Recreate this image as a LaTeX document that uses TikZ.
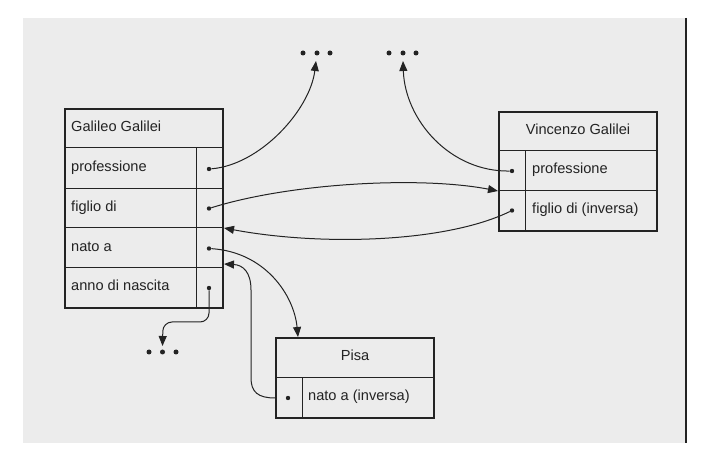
\documentclass[tikz,border=0pt]{standalone}
\usepackage{fontspec}
\setmainfont{Liberation Sans}
\usetikzlibrary{arrows.meta}
\definecolor{bg}{RGB}{236,236,236}
\definecolor{ink}{RGB}{35,35,35}
\begin{document}
\begin{tikzpicture}[x=1pt,y=-1pt,
  box/.style={draw=ink,line width=1.8pt,inner sep=0pt,rectangle},
  sep/.style={draw=ink,line width=1pt},
  lbl/.style={font=\fontsize{14.6}{17}\selectfont,text=ink,inner sep=0pt},
  pt/.style={circle,fill=ink,inner sep=0pt,minimum size=4.4pt},
  edot/.style={circle,fill=ink,inner sep=0pt,minimum size=5pt},
  link/.style={draw=ink,line width=1pt,-{Triangle[length=10pt,width=8pt]}},
]
\useasboundingbox (0,0) rectangle (713,465);
\fill[white] (0,0) rectangle (713,465);
\fill[bg] (23,18) rectangle (686,443);
\draw[ink,line width=1.5pt] (686,18) -- (686,443);

% ---- Galileo Galilei box
\node[box,minimum width=158pt,minimum height=199pt] (gg) at (144,208.5) {};
\draw[sep] (65,148) -- (223,148);
\draw[sep] (65,189) -- (223,189);
\draw[sep] (65,228) -- (223,228);
\draw[sep] (65,268) -- (223,268);
\draw[sep] (196,148) -- (196,308);
\node[lbl,anchor=mid west] (ggt) at (71,129) {Galileo Galilei};
\node[lbl,anchor=mid west] (ggp) at (71,169) {professione};
\node[lbl,anchor=mid west] (ggf) at (71,208.5) {figlio di};
\node[lbl,anchor=mid west] (ggn) at (71,248.5) {nato a};
\node[lbl,anchor=mid west] (gga) at (71,288) {anno di nascita};
\node[pt] (gpd) at (209,169) {};
\node[pt] (gfd) at (209,208.5) {};
\node[pt] (gnd) at (209,248.5) {};
\node[pt] (gad) at (209,288) {};

% ---- Vincenzo Galilei box
\node[box,minimum width=158pt,minimum height=119pt] (vg) at (578,171.5) {};
\draw[sep] (499,151) -- (657,151);
\draw[sep] (499,191) -- (657,191);
\draw[sep] (525,151) -- (525,231);
\node[lbl,anchor=mid] (vgt) at (578,132) {Vincenzo Galilei};
\node[lbl,anchor=mid west] (vgp) at (532,171) {professione};
\node[lbl,anchor=mid west] (vgf) at (532,210.5) {figlio di (inversa)};
\node[pt] (vpd) at (512,171) {};
\node[pt] (vfd) at (512,210.5) {};

% ---- Pisa box
\node[box,minimum width=158pt,minimum height=80pt] (pi) at (355,378) {};
\draw[sep] (276,378) -- (434,378);
\draw[sep] (302,378) -- (302,418);
\node[lbl,anchor=mid] (pit) at (355,358) {Pisa};
\node[lbl,anchor=mid west] (pin) at (308,398) {nato a (inversa)};
\node[pt] (pnd) at (288,398) {};

% ---- ellipses
\node[edot] (e1a) at (303,53) {};
\node[edot] (e1b) at (317,53) {};
\node[edot] (e1c) at (330,53) {};
\node[edot] (e2a) at (389,53) {};
\node[edot] (e2b) at (403,53) {};
\node[edot] (e2c) at (416,53) {};
\node[edot] (e3a) at (149,352) {};
\node[edot] (e3b) at (162.5,352) {};
\node[edot] (e3c) at (176,352) {};

% ---- arrow end points
\coordinate (t1) at (316,61);
\coordinate (t2) at (403,61);
\coordinate (t3) at (162.5,346);
\coordinate (vin) at (498,191);
\coordinate (gin1) at (224,228);
\coordinate (gin2) at (224,264);
\coordinate (ptop) at (298,337);
\coordinate (pout) at (pi.west |- pnd);

% ---- connectors
\draw[link] (gpd) .. controls (260,165) and (310,110) .. (t1);
\draw[link] (vpd) .. controls (450,172) and (405,120) .. (t2);
\draw[link] (gfd) .. controls (290,183) and (420,176) .. (vin);
\draw[link] (vfd) .. controls (445,243) and (320,246) .. (gin1);
\draw[link] (gnd) .. controls (265,252) and (294,295) .. (ptop);
\draw[link] (pout) .. controls (258,398) and (251,392) .. (251,378) -- (251,290) .. controls (251,272) and (243,265) .. (gin2);
\draw[link,rounded corners=9pt] (gad) -- (209,322) -- (163,322) -- (t3);
\end{tikzpicture}
\end{document}
